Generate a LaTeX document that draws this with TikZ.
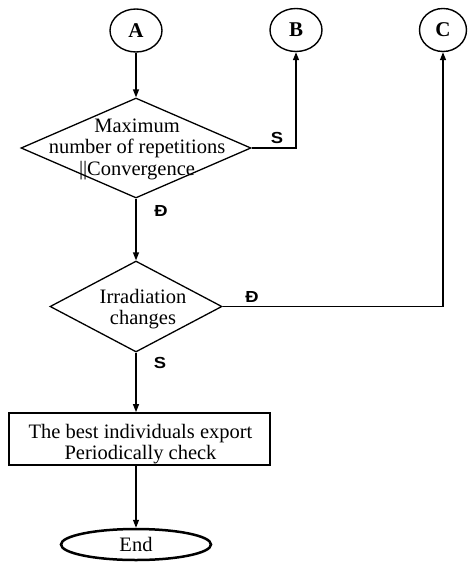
\documentclass[tikz,border=0pt]{standalone}
\usepackage{fontspec}
\setmainfont{Liberation Serif}
\newfontfamily\lblfont{Liberation Sans}
\usetikzlibrary{shapes.geometric,arrows.meta}
\begin{document}
\begin{tikzpicture}[x=1pt,y=-1pt,
  conn/.style={line width=1.3pt,-{Triangle[length=8pt,width=6pt]}},
  circ/.style={ellipse,draw,line width=1.4pt,minimum width=52pt,minimum height=43pt,inner sep=0pt,font=\fontsize{21}{21}\selectfont\bfseries},
  dia/.style={diamond,draw,line width=1.3pt,inner sep=0pt},
  txt/.style={align=center,inner sep=0pt,font=\fontsize{20.5}{21.5}\selectfont},
  lbl/.style={inner sep=0pt,font=\fontsize{16}{16}\selectfont\lblfont\bfseries}]
\useasboundingbox (0,0) rectangle (470,562);
\node[circ] (A) at (136,30.5) {A};
\node[circ] (B) at (296,30) {B};
\node[circ,minimum width=47pt] (C) at (443,30) {C};
\node[dia,minimum width=230pt,minimum height=100pt] (d1) at (136,148) {};
\node[txt] (t1) at (137,149) {Maximum\\number of repetitions\\||Convergence};
\node[dia,minimum width=172pt,minimum height=91pt] (d2) at (136,306.5) {};
\node[txt] (t2) at (143,309) {Irradiation\\changes};
\node[draw,line width=1.8pt,minimum width=261pt,minimum height=52pt,inner sep=0pt] (box) at (139.5,439) {};
\node[txt] (t3) at (140.5,444) {The best individuals export\\Periodically check};
\node[ellipse,draw,line width=2.5pt,minimum width=150pt,minimum height=31pt,inner sep=0pt,txt] (end) at (136,544.5) {End};
\draw[conn] (A) -- (d1.north);
\draw[conn] (d1.east) -| (B.south);
\draw[conn] (d1.south) -- (d2.north);
\draw[conn] (d2.east) -| (C.south);
\draw[conn] (d2.south) -- (d2.south |- box.north);
\draw[conn] (d2.south |- box.south) -- (end.north);
\node[lbl,xscale=1.15] (s1) at (277,137.5) {S};
\node[lbl,xscale=1.15] (n1) at (161,210.5) {Đ};
\node[lbl,xscale=1.15] (n2) at (252,297) {Đ};
\node[lbl,xscale=1.15] (s2) at (160,363) {S};
\end{tikzpicture}
\end{document}
